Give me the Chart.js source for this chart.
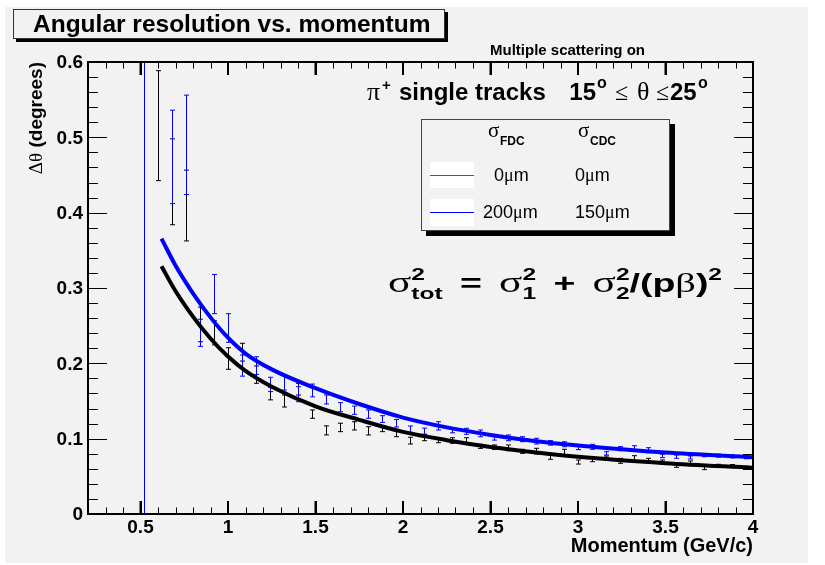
<!DOCTYPE html>
<html>
<head>
<meta charset="utf-8">
<script src="https://cdn.jsdelivr.net/npm/chart.js@4/dist/chart.umd.min.js"></script>
<style>
  body { margin: 0; background: #fff; }
  #wrap { width: 825px; height: 565px; }
</style>
</head>
<body>
<div id="wrap"><canvas id="resChart" width="825" height="565"></canvas></div>
<script>
// bin centres (GeV/c)
const momentum = [0.52, 0.60, 0.68, 0.76, 0.84, 0.92, 1.00, 1.08, 1.16, 1.24, 1.32, 1.40,
  1.48, 1.56, 1.64, 1.72, 1.80, 1.88, 1.96, 2.04, 2.12, 2.20, 2.28, 2.36, 2.44, 2.52,
  2.60, 2.68, 2.76, 2.84, 2.92, 3.00, 3.08, 3.16, 3.24, 3.32, 3.40, 3.48, 3.56, 3.64,
  3.72, 3.80, 3.88, 3.96];

// sigma_FDC = 0um, sigma_CDC = 0um
const resBlack = [null, 0.5155, 0.441, 0.4095, 0.2516, 0.2405, 0.2064, 0.2148, 0.185, 0.160, 0.150, 0.1657,
  0.1326, 0.111, 0.1149, 0.117, 0.1104, 0.1126, 0.1066, 0.0974, 0.1011, 0.0976, 0.0975, 0.0975, 0.0898, 0.0887,
  0.0878, 0.0832, 0.0834, 0.0761, 0.0821, 0.069, 0.0721, 0.0743, 0.0706, 0.0741, 0.071, 0.069, 0.0642, 0.0682,
  0.0614, 0.064, 0.0637, 0.0615];
const errBlack = [null, 0.073, 0.057, 0.047, 0.023, 0.016, 0.0143, 0.0118, 0.0115, 0.0085, 0.008, 0.0078,
  0.0055, 0.006, 0.0056, 0.0055, 0.0055, 0.0033, 0.004, 0.0045, 0.0038, 0.003, 0.0037, 0.0037, 0.0027, 0.003,
  0.0038, 0.0027, 0.0038, 0.0035, 0.0038, 0.0027, 0.0027, 0.0027, 0.0033, 0.0033, 0.0029, 0.0027, 0.0022, 0.0022,
  0.0025, 0.002, 0.002, 0.002];

// sigma_FDC = 200um, sigma_CDC = 150um
const resBlue = [0.30, null, 0.474, 0.49, 0.2405, 0.292, 0.2469, 0.197, 0.197, 0.172, 0.1745, 0.159,
  0.164, 0.152, 0.1418, 0.1378, 0.1326, 0.126, 0.1205, 0.1126, 0.110, 0.117, 0.1113, 0.1098, 0.107, 0.1011,
  0.1011, 0.0993, 0.0967, 0.0944, 0.0926, 0.088, 0.0892, 0.0805, 0.0867, 0.0873, 0.0847, 0.077, 0.0761, 0.075,
  0.078, 0.0775, 0.0765, 0.0753];
const errBlue = [0.30, null, 0.062, 0.066, 0.018, 0.026, 0.019, 0.014, 0.0117, 0.0095, 0.01, 0.01,
  0.0085, 0.006, 0.006, 0.0055, 0.0055, 0.0045, 0.005, 0.0042, 0.004, 0.0055, 0.0035, 0.004, 0.0045, 0.003,
  0.0038, 0.0033, 0.0038, 0.003, 0.0033, 0.0025, 0.0033, 0.0022, 0.0027, 0.0033, 0.0033, 0.0022, 0.0022, 0.002,
  0.002, 0.002, 0.002, 0.002];

// fitted curves sigma_tot(p)
const fitMomentum = [0.62, 0.7, 0.8, 0.9, 1.0, 1.1, 1.25, 1.5, 1.75, 2.0, 2.25, 2.5, 2.75, 3.0, 3.5, 4.0];
const fitBlack = [0.329, 0.296, 0.262, 0.233, 0.209, 0.190, 0.169, 0.143, 0.125, 0.109, 0.098, 0.089, 0.082, 0.0760, 0.0675, 0.0613];
const fitBlue = [0.3655, 0.330, 0.293, 0.261, 0.234, 0.213, 0.192, 0.167, 0.146, 0.128, 0.115, 0.105, 0.097, 0.091, 0.0815, 0.0753];

const xTicks = [0.5, 1, 1.5, 2, 2.5, 3, 3.5, 4];
const yTicks = [0, 0.1, 0.2, 0.3, 0.4, 0.5, 0.6];

const BG = "#f2f2f2";
const BLUE = "#0000ff";
const SANS = "'Liberation Sans', Arial, sans-serif";
const SERIF = "'Liberation Serif', 'Times New Roman', serif";

const pts = (xs, ys) => xs.map((x, i) => ({ x: x, y: ys[i] }));

// draw a row of text pieces with different fonts, returns end x
function runs(ctx, x, y, parts) {
    ctx.textAlign = "left";
    ctx.textBaseline = "alphabetic";
    parts.forEach(p => {
        ctx.font = p.f;
        ctx.fillText(p.t, x, y + (p.dy || 0));
        if (!p.stay) x += ctx.measureText(p.t).width + (p.pad || 0);
    });
    return x;
}
function runsWidth(ctx, parts) {
    let w = 0;
    parts.forEach(p => { ctx.font = p.f; if (!p.stay) w += ctx.measureText(p.t).width + (p.pad || 0); });
    return w;
}

const rootStyle = {
    id: "rootStyle",
    beforeDraw(chart) {
        const ctx = chart.ctx;
        ctx.save();
        ctx.fillStyle = "#fff";
        ctx.fillRect(0, 0, chart.width, chart.height);
        ctx.fillStyle = BG;
        ctx.fillRect(5, 7, 803, 556);
        ctx.restore();
    },
    beforeDatasetsDraw(chart) {
        // error bars
        const ctx = chart.ctx, a = chart.chartArea;
        const xs = chart.scales.x, ys = chart.scales.y;
        ctx.save();
        ctx.beginPath();
        ctx.rect(a.left, a.top, a.right - a.left, a.bottom - a.top);
        ctx.clip();
        ctx.lineWidth = 1;
        [[resBlack, errBlack, "#000"], [resBlue, errBlue, BLUE]].forEach(([vals, errs, col]) => {
            ctx.strokeStyle = col;
            vals.forEach((v, i) => {
                if (v === null) return;
                const x = Math.round(xs.getPixelForValue(momentum[i])) + 0.5;
                const yTop = ys.getPixelForValue(v + errs[i]);
                const yBot = ys.getPixelForValue(v - errs[i]);
                ctx.beginPath();
                ctx.moveTo(x, yTop); ctx.lineTo(x, yBot);
                ctx.moveTo(x - 2.5, yTop); ctx.lineTo(x + 2.5, yTop);
                ctx.moveTo(x - 2.5, yBot); ctx.lineTo(x + 2.5, yBot);
                ctx.stroke();
            });
        });
        ctx.restore();
    },
    afterDraw(chart) {
        const ctx = chart.ctx, a = chart.chartArea;
        const xs = chart.scales.x, ys = chart.scales.y;
        ctx.save();

        // frame
        ctx.strokeStyle = "#000";
        ctx.lineWidth = 2;
        ctx.strokeRect(a.left, a.top, a.right - a.left, a.bottom - a.top);

        // ticks on all four sides, pointing inwards
        ctx.lineWidth = 1;
        ctx.beginPath();
        for (let k = 3; k <= 39; k++) {
            const x = Math.round(xs.getPixelForValue(k / 10)) + 0.5;
            const len = (k % 5 === 0) ? 13 : 6.5;
            ctx.moveTo(x, a.bottom); ctx.lineTo(x, a.bottom - len);
            ctx.moveTo(x, a.top); ctx.lineTo(x, a.top + len);
        }
        for (let k = 1; k < 30; k++) {
            const y = Math.round(ys.getPixelForValue(k / 50)) + 0.5;
            const len = (k % 5 === 0) ? 19 : 10;
            ctx.moveTo(a.left, y); ctx.lineTo(a.left + len, y);
            ctx.moveTo(a.right, y); ctx.lineTo(a.right - len, y);
        }
        ctx.stroke();
        ctx.lineWidth = 2;
        ctx.beginPath();
        xTicks.forEach(v => {
            const x = xs.getPixelForValue(v);
            ctx.moveTo(x, a.bottom); ctx.lineTo(x, a.bottom - 13);
            ctx.moveTo(x, a.top); ctx.lineTo(x, a.top + 13);
        });
        ctx.stroke();

        // tick labels
        ctx.fillStyle = "#000";
        ctx.font = "bold 19px " + SANS;
        ctx.textAlign = "center";
        ctx.textBaseline = "alphabetic";
        xTicks.forEach(v => ctx.fillText(String(v), xs.getPixelForValue(v), 533));
        ctx.textAlign = "right";
        ctx.textBaseline = "middle";
        yTicks.forEach(v => ctx.fillText(String(v), 83, ys.getPixelForValue(v) + 1));

        // axis titles
        ctx.textBaseline = "alphabetic";
        ctx.textAlign = "right";
        ctx.font = "bold 20px " + SANS;
        ctx.fillText("Momentum (GeV/c)", a.right, 552);

        const yTitle = [
            { t: "\u0394\u03b8", f: "19px " + SERIF },
            { t: " (degrees)", f: "bold 19px " + SANS }
        ];
        ctx.save();
        ctx.translate(42, a.top);
        ctx.rotate(-Math.PI / 2);
        runs(ctx, -runsWidth(ctx, yTitle), 0, yTitle);
        ctx.restore();

        // title box
        ctx.fillStyle = "#000";
        ctx.fillRect(16, 12, 432, 30);
        ctx.fillStyle = BG;
        ctx.fillRect(13, 9, 432, 30);
        ctx.strokeStyle = "#333";
        ctx.lineWidth = 1;
        ctx.strokeRect(13.5, 9.5, 431, 29);
        ctx.fillStyle = "#000";
        ctx.font = "bold 24.5px " + SANS;
        ctx.textAlign = "left";
        ctx.fillText("Angular resolution vs. momentum", 33, 32);

        ctx.font = "bold 15px " + SANS;
        ctx.fillText("Multiple scattering on", 490, 55);

        // pi+ single tracks 15 < theta < 25
        const bold24 = "bold 24px " + SANS;
        ctx.font = "26px " + SERIF; ctx.fillText("\u03c0", 367, 100);
        ctx.font = "bold 15px " + SANS; ctx.fillText("+", 382, 90);
        ctx.font = bold24; ctx.fillText("single tracks", 399, 100);
        ctx.textAlign = "right";
        ctx.fillText("15", 596, 100);
        ctx.textAlign = "left";
        ctx.font = "bold 16px " + SANS; ctx.fillText("o", 597, 88);
        ctx.font = "24px " + SERIF; ctx.fillText("\u2264", 615, 100);
        ctx.font = "26px " + SERIF; ctx.fillText("\u03b8", 637, 100);
        ctx.font = "24px " + SERIF; ctx.fillText("\u2264", 656, 100);
        ctx.font = bold24; ctx.fillText("25", 670, 100);
        ctx.font = "bold 16px " + SANS; ctx.fillText("o", 698, 88);

        // legend
        ctx.fillStyle = "#000";
        ctx.fillRect(426, 124, 249, 112);
        ctx.fillStyle = BG;
        ctx.fillRect(421, 119, 249, 112);
        ctx.strokeStyle = "#444";
        ctx.strokeRect(421.5, 119.5, 248, 111);
        ctx.fillStyle = "#fff";
        ctx.fillRect(430, 162, 44, 26);
        ctx.fillRect(430, 199, 44, 27);
        ctx.lineWidth = 1;
        ctx.strokeStyle = "#555";
        ctx.beginPath(); ctx.moveTo(430, 175.5); ctx.lineTo(474, 175.5); ctx.stroke();
        ctx.strokeStyle = BLUE;
        ctx.beginPath(); ctx.moveTo(430, 212.5); ctx.lineTo(474, 212.5); ctx.stroke();

        ctx.fillStyle = "#000";
        ctx.font = "21px " + SERIF; ctx.fillText("\u03c3", 488, 137);
        ctx.fillText("\u03c3", 578, 137);
        ctx.font = "bold 12px " + SANS; ctx.fillText("FDC", 500, 145);
        ctx.fillText("CDC", 590, 145);
        const um = (val, x, y) => runs(ctx, x, y, [
            { t: val, f: "18px " + SANS },
            { t: "\u03bc", f: "18px " + SERIF },
            { t: "m", f: "18px " + SANS }
        ]);
        um("0", 494, 181);
        um("0", 575, 181);
        um("200", 483, 218);
        um("150", 575, 218);

        // fit formula
        const b = "bold 26px " + SANS, s = "bold 17px " + SANS, sg = "30px " + SERIF;
        const formula = [
            { t: "\u03c3", f: sg },
            { t: "2", f: s, dy: -12, stay: true },
            { t: "tot", f: s, dy: 7, pad: 12 },
            { t: "=", f: b, pad: 12 },
            { t: "\u03c3", f: sg },
            { t: "2", f: s, dy: -12, stay: true },
            { t: "1", f: s, dy: 7, pad: 12 },
            { t: "+", f: b, pad: 12 },
            { t: "\u03c3", f: sg },
            { t: "2", f: s, dy: -12, stay: true },
            { t: "2", f: s, dy: 7 },
            { t: "/(p", f: b },
            { t: "\u03b2", f: "28px " + SERIF },
            { t: ")", f: b },
            { t: "2", f: s, dy: -12 }
        ];
        ctx.save();
        ctx.translate(388, 292);
        ctx.scale(334 / runsWidth(ctx, formula), 1);
        runs(ctx, 0, 0, formula);
        ctx.restore();
        ctx.restore();
    }
};

new Chart(document.getElementById("resChart"), {
    type: "scatter",
    data: {
        datasets: [
            {
                type: "line",
                data: pts(fitMomentum, fitBlack),
                borderColor: "#000",
                borderWidth: 4,
                pointRadius: 0,
                cubicInterpolationMode: "monotone",
                fill: false
            },
            {
                type: "line",
                data: pts(fitMomentum, fitBlue),
                borderColor: BLUE,
                borderWidth: 4,
                pointRadius: 0,
                cubicInterpolationMode: "monotone",
                fill: false
            }
        ]
    },
    options: {
        responsive: false,
        animation: false,
        devicePixelRatio: 1,
        layout: { padding: { left: 88, top: 62, right: 72, bottom: 51 } },
        scales: {
            x: { type: "linear", min: 0.2, max: 4, display: false },
            y: { type: "linear", min: 0, max: 0.6, display: false }
        },
        plugins: { legend: { display: false }, tooltip: { enabled: false } }
    },
    plugins: [rootStyle]
});
</script>
</body>
</html>
